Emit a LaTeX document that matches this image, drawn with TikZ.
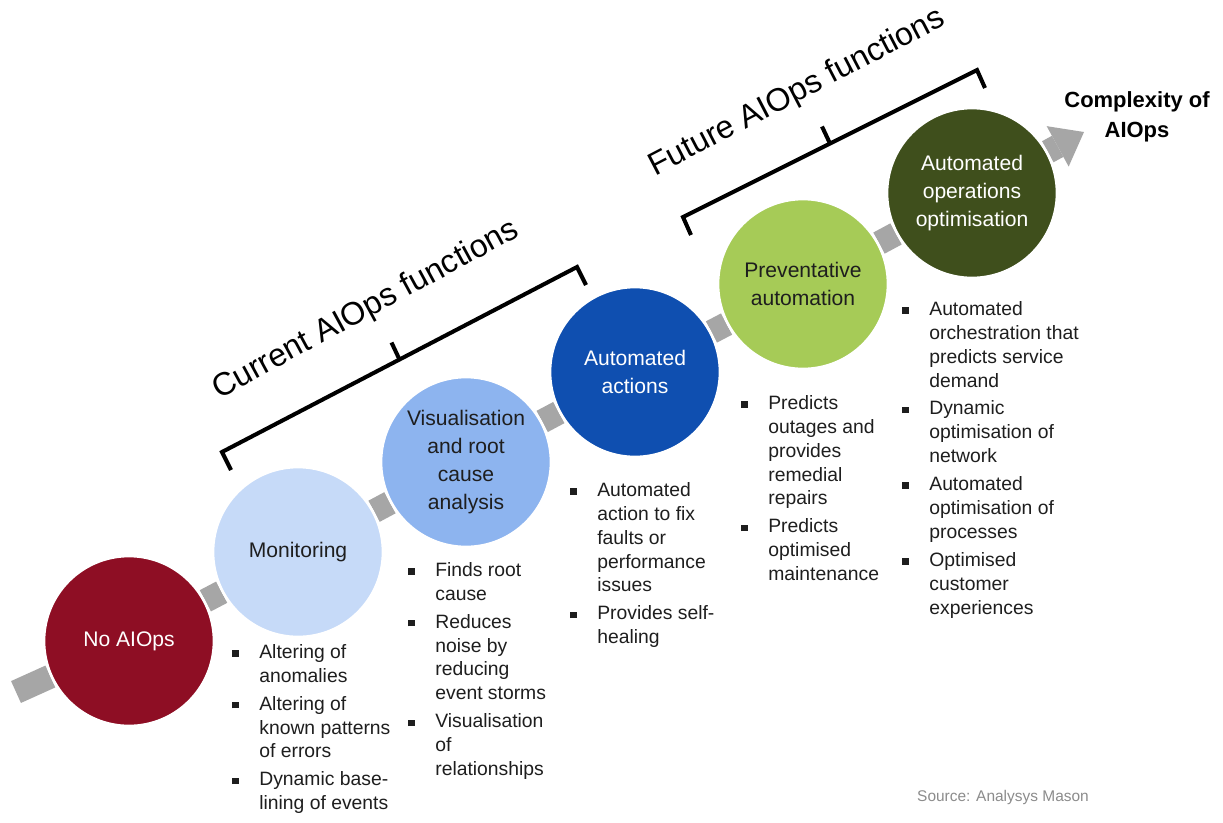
\documentclass[tikz,border=0pt]{standalone}
\usepackage{fontspec}
\setmainfont{Liberation Sans}
\usepackage{tikz}
\usetikzlibrary{arrows.meta,backgrounds,calc}

\definecolor{stageA}{RGB}{142,14,36}
\definecolor{stageB}{RGB}{198,218,248}
\definecolor{stageC}{RGB}{141,180,239}
\definecolor{stageD}{RGB}{15,79,176}
\definecolor{stageE}{RGB}{166,203,87}
\definecolor{stageF}{RGB}{63,79,28}
\definecolor{linkgrey}{RGB}{166,166,166}
\definecolor{textdark}{RGB}{30,30,30}
\definecolor{srcgrey}{RGB}{140,140,140}

% square bullet and hanging indent for the lists
\newcommand{\bsq}{\makebox[0.54cm][l]{\raisebox{0.035cm}{\rule{0.13cm}{0.13cm}}}}
\newcommand{\ind}{\hspace*{0.54cm}}

\begin{document}
\begin{tikzpicture}[x=0.02cm, y=-0.02cm]
			\tikzstyle{Stage}   = [circle, draw=white, line width=1.5pt, minimum size=3.4cm, inner sep=0pt, align=center, font=\fontsize{12}{15.9}\selectfont]
			\tikzstyle{Dark}    = [text=white]
			\tikzstyle{Light}   = [text=textdark]
			\tikzstyle{Link}    = [draw=linkgrey, line width=0.48cm]
			\tikzstyle{Brace}   = [line width=2.3pt, line join=miter]
			\tikzstyle{Items}   = [anchor=north west, inner sep=0pt, align=left, text=textdark, font=\fontsize{11}{13.6}\selectfont]
			\tikzstyle{Heading} = [font=\fontsize{18.3}{21}\selectfont]

			\useasboundingbox (0,0) rectangle (1223,822);

			\node (c1) at (129, 641) [Stage, fill=stageA][Dark] {No AIOps};
			\node (c2) at (298, 552) [Stage, fill=stageB][Light] {Monitoring};
			\node (c3) at (466, 462) [Stage, fill=stageC][Light] {Visualisation\\and root\\cause\\analysis};
			\node (c4) at (635, 372) [Stage, fill=stageD][Dark] {Automated\\actions};
			\node (c5) at (803, 284) [Stage, fill=stageE][Light] {Preventative\\automation};
			\node (c6) at (972, 193) [Stage, fill=stageF][Dark] {Automated\\operations\\optimisation};

			\node (l2) at (232, 644) [Items] {\bsq Altering of\\ \ind anomalies\\[2.3pt]
				\bsq Altering of\\ \ind known patterns\\ \ind of errors\\[2.3pt]
				\bsq Dynamic base-\\ \ind lining of events};
			\node (l3) at (408, 562) [Items] {\bsq Finds root\\ \ind cause\\[2.3pt]
				\bsq Reduces\\ \ind noise by\\ \ind reducing\\ \ind event storms\\[2.3pt]
				\bsq Visualisation\\ \ind of\\ \ind relationships};
			\node (l4) at (570, 482) [Items] {\bsq Automated\\ \ind action to fix\\ \ind faults or\\ \ind performance\\ \ind issues\\[2.3pt]
				\bsq Provides self-\\ \ind healing};
			\node (l5) at (741, 395) [Items] {\bsq Predicts\\ \ind outages and\\ \ind provides\\ \ind remedial\\ \ind repairs\\[2.3pt]
				\bsq Predicts\\ \ind optimised\\ \ind maintenance};
			\node (l6) at (902, 301) [Items] {\bsq Automated\\ \ind orchestration that\\ \ind predicts service\\ \ind demand\\[2.3pt]
				\bsq Dynamic\\ \ind optimisation of\\ \ind network\\[2.3pt]
				\bsq Automated\\ \ind optimisation of\\ \ind processes\\[2.3pt]
				\bsq Optimised\\ \ind customer\\ \ind experiences};

			% brackets over the two groups
			\coordinate (b1l) at (222, 452);
			\coordinate (b1r) at (577, 267);
			\coordinate (b2l) at (683, 217);
			\coordinate (b2r) at (977, 70);
			\draw [Brace] ($(b1l)+(9,18)$) -- (b1l) -- (b1r) -- ($(b1r)+(9,18)$);
			\draw [Brace] ($(b1l)!0.5!(b1r)$) -- ++(-8,-17);
			\draw [Brace] ($(b2l)+(8,18)$) -- (b2l) -- (b2r) -- ($(b2r)+(8,18)$);
			\draw [Brace] ($(b2l)!0.5!(b2r)$) -- ++(-8,-17);

			\node (cur) at (366, 310) [Heading, rotate=28.5] {Current AIOps functions};
			\node (fut) at (797, 93) [Heading, rotate=27.5] {Future AIOps functions};

			\node (cx) at (1137, 117) [align=center, font=\bfseries\fontsize{12.5}{17}\selectfont] {Complexity of\\AIOps};
			\node (src) at (1003, 797) [text=srcgrey, font=\fontsize{8.8}{10}\selectfont] {Source: Analysys Mason};

			\begin{scope}[on background layer]
				\fill [white] (0,0) rectangle (1223,822);
				\coordinate (tail) at (16, 692);
				\coordinate (tip) at (1084, 132);
				\draw [Link] (tail) -- (c1);
				\foreach \a/\b in {c1/c2, c2/c3, c3/c4, c4/c5, c5/c6}
					\draw [Link] (\a) -- (\b);
				\draw [Link, -{Triangle[length=0.6cm, width=0.92cm, line width=0pt]}] (c6) -- (tip);
			\end{scope}
		\end{tikzpicture}
\end{document}
